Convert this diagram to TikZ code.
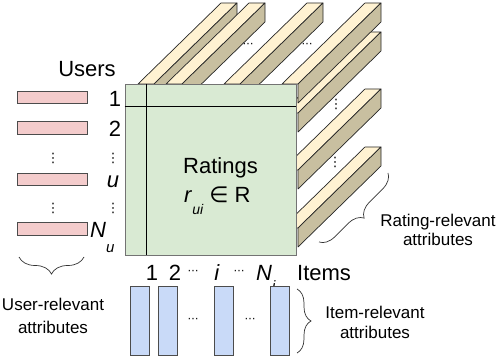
\documentclass[tikz,border=0pt]{standalone}
\usepackage{fontspec}
\setmainfont{Liberation Sans}
\newfontfamily\dejavu{DejaVu Sans}
\usetikzlibrary{decorations.pathreplacing}
\definecolor{mgreen}{HTML}{D9EAD3}
\definecolor{upink}{HTML}{F4CCCC}
\definecolor{iblue}{HTML}{C9DAF8}
\definecolor{cream}{HTML}{FFF2D2}
\definecolor{tanside}{HTML}{C8BFA0}
\newcommand\drawbar[2]{%
  \filldraw[topface] ({#1},{#2}) -- ++(16,0) -- ++(83,-81) -- ++(-16,0) -- cycle;
  \filldraw[sideface] ({#1+16},{#2}) -- ++(83,-81) -- ++(0,19) -- ++(-83,81) -- cycle;
}
\begin{document}
\begin{tikzpicture}[x=1pt,y=-1pt,
  big/.style={font=\fontsize{22}{22}\selectfont, inner sep=0pt},
  small/.style={font=\fontsize{17}{17}\selectfont, inner sep=0pt},
  ubar/.style={fill=upink, draw=black!70, line width=0.6pt, minimum width=70pt, minimum height=12.5pt, inner sep=0pt},
  ibar/.style={fill=iblue, draw=black!70, line width=0.6pt, minimum width=19pt, minimum height=69pt, inner sep=0pt},
  topface/.style={fill=cream, draw=black!85, line width=0.7pt, line join=round},
  sideface/.style={fill=tanside, draw=black!85, line width=0.7pt, line join=round},
  matbox/.style={fill=mgreen, draw=black!55, line width=0.8pt, minimum width=171pt, minimum height=171pt, inner sep=0pt},
  inner/.style={draw=black, line width=0.7pt},
  brc/.style={draw=black!80, line width=0.7pt, decorate},
  vdots/.style={font=\dejavu\fontsize{13}{13}\selectfont, inner sep=0pt},
  hdots/.style={font=\dejavu\fontsize{11}{11}\selectfont, inner sep=0pt},
]
\useasboundingbox (0,0) rectangle (498,358);

% rating-relevant bars (back to front)
\drawbar{282}{228}
\drawbar{282}{170}
\drawbar{282}{113}
\drawbar{138}{84}
\drawbar{166}{84}
\drawbar{224}{84}
\drawbar{282}{84}
\node[hdots] (bd1) at (248,45) {⋯};
\node[hdots] (bd2) at (307,45) {⋯};
\node[vdots] (bd3) at (336,104) {⋮};
\node[vdots] (bd4) at (335,162) {⋮};

% ratings matrix
\node[matbox] (mat) at (210.5,169.5) {};
\draw[inner] ([xshift=22pt]mat.north west) -- ([xshift=22pt]mat.south west);
\draw[inner] ([yshift=-23pt]mat.north west) -- ([yshift=-23pt]mat.north east);
\node[font=\fontsize{22}{22}\selectfont, inner sep=0pt, anchor=base] (rat) at (220.5,174) {Ratings};
\node[font=\fontsize{22}{22}\selectfont, inner sep=0pt, anchor=base west] (rui) at (184,203)
  {\textit{r}\hspace{0pt}\raisebox{-12pt}{\fontsize{14}{14}\selectfont\textit{ui}}\hspace{6pt}{\dejavu ∈}\hspace{6pt}R};

% users
\node[big, anchor=base] (users) at (87,77) {Users};
\node[ubar] (ub1) at (52,97.5) {};
\node[ubar] (ub2) at (52,128) {};
\node[ubar] (ubu) at (52,179.5) {};
\node[ubar] (ubn) at (52,229) {};
\node[vdots] (ud1) at (53,158) {⋮};
\node[vdots] (ud2) at (53,208) {⋮};
\node[big, anchor=base] (l1) at (115,107) {1};
\node[big, anchor=base] (l2) at (115,137) {2};
\node[vdots] (ld1) at (113,158) {⋮};
\node[big, anchor=base] (lu) at (113,188) {\textit{u}};
\node[vdots] (ld2) at (113,208) {⋮};
\node[big, anchor=base west] (ln) at (90,237) {\textit{N}\raisebox{-16pt}{\fontsize{15}{15}\selectfont\textit{u}}};

% items
\node[big, anchor=base] (i1) at (152,280) {1};
\node[big, anchor=base] (i2) at (175,280) {2};
\node[hdots] (id1) at (193,272) {⋯};
\node[big, anchor=base] (ii) at (217,280) {\textit{i}};
\node[hdots] (id2) at (239,272) {⋯};
\node[big, anchor=base west] (in) at (256,280) {\textit{N}\raisebox{-11pt}{\fontsize{15}{15}\selectfont\textit{i}}};
\node[big, anchor=base west] (items) at (297,280) {Items};
\node[ibar] (ib1) at (139.5,320.5) {};
\node[ibar] (ib2) at (167.5,320.5) {};
\node[ibar] (ibi) at (223.5,320.5) {};
\node[ibar] (ibn) at (279.5,320.5) {};
\node[hdots] (ibd1) at (193,320) {⋯};
\node[hdots] (ibd2) at (250,320) {⋯};

% braces
\coordinate (ubr1) at (84,257);
\coordinate (ubr2) at (19,257);
\draw[brc, decoration={brace, amplitude=17pt}] (ubr1) -- (ubr2);
\coordinate (ibr1) at (297,289);
\coordinate (ibr2) at (297,353);
\draw[brc, decoration={brace, amplitude=14pt}] (ibr1) -- (ibr2);
\coordinate (rbr1) at (388,173);
\coordinate (rbr2) at (319,242);
\draw[brc, decoration={brace, amplitude=15pt}] (rbr1) -- (rbr2);

% attribute labels
\node[small, anchor=base] (ur1) at (53,310) {User-relevant};
\node[small, anchor=base] (ur2) at (53,333) {attributes};
\node[small, anchor=base] (ir1) at (375,318) {Item-relevant};
\node[small, anchor=base] (ir2) at (375,338) {attributes};
\node[small, anchor=base] (rr1) at (438,227) {Rating-relevant};
\node[small, anchor=base] (rr2) at (438,246) {attributes};
\end{tikzpicture}
\end{document}
